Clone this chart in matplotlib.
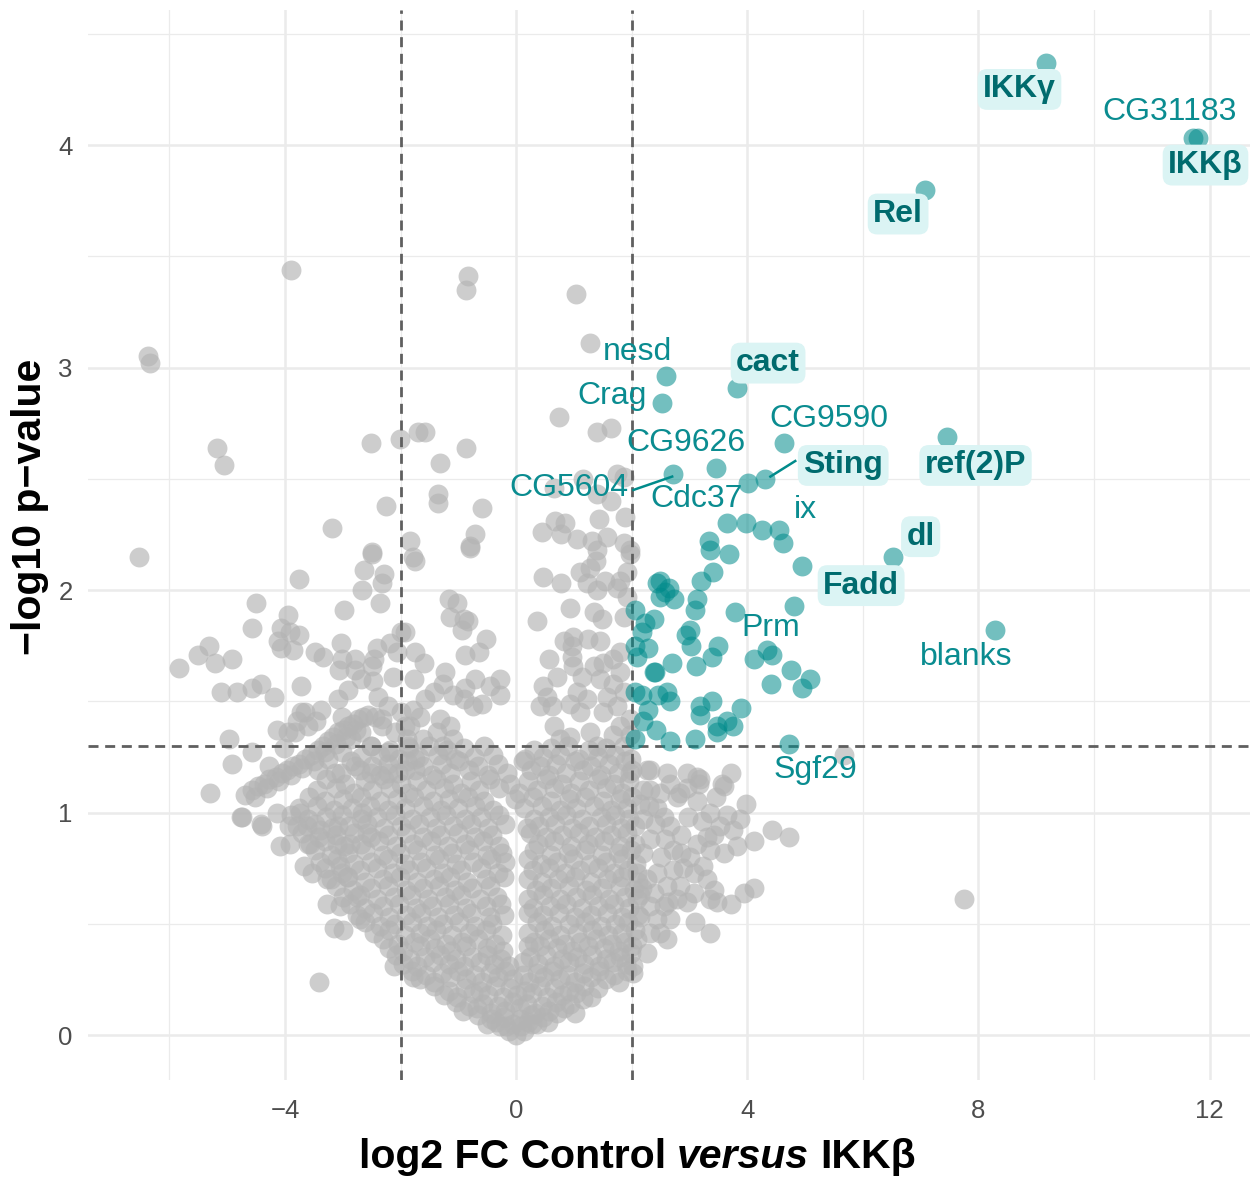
import matplotlib
matplotlib.use("Agg")
import matplotlib.pyplot as plt

plt.rcParams['font.family'] = ['Liberation Sans', 'DejaVu Sans']

# ---------------- data (log2 FC, -log10 p) ----------------
gray_upper = [(-6.38,3.05),(-6.34,3.02),(-6.52,2.15),(-3.89,3.44),(-5.17,2.64),(-5.06,2.56),
    (-2.52,2.66),(-2.01,2.68),(-1.70,2.71),(-2.25,2.38),(-3.18,2.28),(-1.84,2.22),(-2.49,2.17),(-1.78,2.15),
    (-0.84,3.41),(-0.87,3.35),(1.03,3.33),(1.28,3.11),(0.74,2.78),(1.40,2.71),(1.64,2.73),
    (-1.57,2.71),(-0.86,2.64),(-1.31,2.57),(-1.36,2.43),(-1.35,2.39),(-0.59,2.37),(-0.71,2.25),(-0.80,2.20),
    (0.65,2.46),(1.15,2.50),(1.74,2.52),(1.86,2.51),(1.40,2.43),(1.64,2.40),(1.88,2.33),(1.43,2.32),
    (0.68,2.31),(0.85,2.30),(0.44,2.26),(0.78,2.25),(1.05,2.23),(1.31,2.22),(1.57,2.24),(1.86,2.21),(1.97,2.18),(1.40,2.18)]

gray_left_mid = [(-3.76,2.05),(-2.49,2.16),(-2.64,2.09),(-2.29,2.07),(-2.33,2.03),(-2.66,2.00),(-2.35,1.94),(-2.98,1.91),
    (-4.51,1.94),(-4.58,1.83),(-3.95,1.89),(-4.07,1.83),(-3.92,1.81),(-3.76,1.80),(-4.13,1.77),(-4.07,1.74),(-3.86,1.73),
    (-5.32,1.75),(-5.51,1.71),(-5.21,1.67),(-4.92,1.69),(-5.84,1.65),(-3.49,1.72),(-3.34,1.70),
    (-3.04,1.76),(-3.01,1.69),(-3.06,1.64),(-2.79,1.69),(-2.40,1.74),(-2.46,1.69),(-2.19,1.76),(-1.99,1.81),(-2.07,1.72),
    (-2.49,1.66),(-2.48,1.59),(-2.13,1.61),
    (-5.11,1.54),(-4.84,1.54),(-4.58,1.56),(-4.41,1.58),(-4.19,1.52),(-3.73,1.57),
    (-3.66,1.45),(-3.47,1.41),(-3.79,1.41),(-3.95,1.36),(-4.14,1.37),(-4.97,1.33),(-4.92,1.22),(-4.58,1.27),
    (-5.29,1.09),(-4.27,1.21),(-4.01,1.29),(-4.76,0.98),(-4.41,0.95),
    (-1.99,1.45),(-2.22,1.48),(-2.39,1.52),(-1.93,1.39),(-2.10,1.36),(-2.33,1.39),(-1.87,1.30),(-2.22,1.27),
    (-2.51,1.30),(-2.68,1.36),(-2.85,1.33),(-3.02,1.27),(-3.26,1.24),(-3.43,1.19),(-3.14,1.18),(-2.79,1.21),
    (-2.51,1.18),(-2.22,1.18),(-1.93,1.19),(-1.75,1.24),
    (-2.79,1.64),(-2.68,1.60),(-2.91,1.55),(-3.08,1.51),(-3.37,1.46),(-3.02,1.43),(-3.60,1.39),(-3.83,1.36),(-3.72,1.45)]

gray_band = [(-4.70,1.08),(-4.58,1.10),(-4.47,1.12),(-4.37,1.13),(-4.27,1.15),(-4.16,1.16),(-4.06,1.18),
    (-3.96,1.19),(-3.86,1.21),(-3.76,1.22),(-3.66,1.24),(-3.55,1.26),(-3.43,1.28),(-3.35,1.30),(-3.26,1.32),
    (-3.17,1.34),(-3.08,1.36),(-3.00,1.37),(-2.91,1.39),(-2.82,1.40),(-2.74,1.42),(-2.65,1.43),(-2.56,1.44),
    (-2.45,1.43),(-2.33,1.42),
    (-4.52,1.07),(-4.31,1.11),(-4.11,1.14),(-3.90,1.17),(-3.70,1.20),(-3.50,1.23),(-3.30,1.27),(-3.12,1.31),
    (-2.95,1.34),(-2.78,1.37)]

gray_mid = [(-1.75,2.13),(-0.80,2.19),(-1.17,1.96),(-1.03,1.94),(-1.14,1.88),(-0.91,1.87),(-0.83,1.86),(-0.94,1.82),
    (-0.52,1.78),(-0.64,1.72),(-0.88,1.71),(-1.92,1.81),(-1.75,1.72),(-1.59,1.67),(-1.77,1.60),
    (-1.23,1.63),(-1.26,1.58),(-1.43,1.54),(-1.58,1.51),
    (-0.71,1.60),(-0.88,1.56),(-1.09,1.53),(-0.91,1.51),(-0.74,1.48),(-0.59,1.49),(-0.45,1.57),(-0.28,1.60),(-0.28,1.53),
    (-1.78,1.46),(-1.66,1.43),(-1.84,1.39),(-1.32,1.42),(-1.14,1.39),(-1.37,1.36),(-1.09,1.33),(-1.26,1.30),(-1.61,1.33),(-1.89,1.33),
    (0.36,1.86),(0.46,2.06),(0.77,2.03),(0.94,1.92),
    (1.11,2.08),(1.28,2.10),(1.39,2.13),(1.54,2.04),(1.22,2.03),(1.40,2.00),(1.74,2.01),(1.92,2.08),(1.97,2.16),(1.80,2.04),(1.92,1.97),
    (1.34,1.90),(1.48,1.87),(1.86,1.88),
    (0.82,1.77),(0.99,1.79),(0.96,1.75),(1.25,1.78),(1.45,1.77),
    (0.56,1.69),(0.70,1.61),(0.47,1.57),(0.53,1.52),(0.42,1.48),(0.62,1.48),
    (0.96,1.70),(0.99,1.66),(1.14,1.61),(1.05,1.54),(0.94,1.49),(1.22,1.51),(1.11,1.45),
    (1.34,1.66),(1.51,1.67),(1.68,1.69),(1.80,1.72),(1.45,1.60),(1.68,1.58),(1.80,1.63),(1.57,1.52),(1.74,1.48),
    (1.51,1.45),(1.86,1.54),(1.97,1.42),(1.80,1.39),(1.68,1.35),(1.97,1.35),
    (0.65,1.39),(0.76,1.33),(0.94,1.34),(1.28,1.36),(1.40,1.30)]

gray_left_low = [(-4.75,0.98),(-4.40,0.94),(-4.14,1.00),(-4.09,0.85),(-3.91,0.86),(-3.94,0.94),(-3.74,1.00),
    (-3.62,0.94),(-3.39,0.92),(-3.57,0.86),(-3.68,0.76),(-3.54,0.73),(-3.28,0.70),(-3.08,0.94),(-3.10,0.86),
    (-2.87,0.86),(-2.67,1.00),(-2.59,0.91),(-3.05,0.76),(-2.93,0.71),(-3.28,0.59),(-3.05,0.58),(-3.16,0.48),
    (-2.99,0.47),(-2.76,0.62),(-2.70,0.52),(-3.42,0.24),(-2.12,0.31),(-1.78,0.26)]

gray_right_low = [(5.67,1.26),(7.75,0.61),(4.72,0.89),(4.43,0.92),
    (4.11,0.87),(3.97,1.04),(4.11,0.66),(3.94,0.64),(3.71,0.59),(3.48,0.60),(3.36,0.61),(3.36,0.46),(3.10,0.51),
    (3.56,1.13),(3.71,1.18),(3.13,1.16),(3.16,1.13),(2.61,1.18),(2.26,1.19),(1.97,1.18),
    (3.88,0.97),(3.76,0.92),(3.65,0.99),(3.53,0.94),(3.42,0.90),(3.82,0.85),(3.59,0.82),(3.36,0.83),(3.30,0.89),
    (3.13,0.86),(3.01,0.80),(2.89,0.75),(2.72,0.83),(2.67,0.94),(2.55,0.98),(2.44,1.02),(2.78,1.07),(2.95,1.11),
    (3.13,1.05),(2.67,1.13),(2.32,1.10),(2.20,0.97),(2.32,0.88),(2.20,0.82),(2.09,0.73),(2.26,0.70),(2.44,0.73),
    (2.61,0.67),(2.84,0.67),(3.07,0.73),(3.24,0.76),(3.30,0.70),(3.42,0.65),(3.07,0.64),(2.78,0.61),(2.55,0.58),
    (2.32,0.58),(2.09,0.61),(2.15,0.53),(2.44,0.52),(2.67,0.52),(2.32,0.46),(2.09,0.43),(2.49,0.46),(2.61,0.43),
    (2.26,0.37),(2.03,0.31),(2.03,0.28),
    (3.59,1.12),(3.19,1.15),(2.96,1.18),(2.32,1.19),(3.36,1.00),(2.84,1.09),(2.49,1.09),(2.20,1.10),
    (2.40,0.95),(2.58,0.88),(2.86,0.90),(2.98,0.98),(2.50,0.80),(2.72,0.74),(2.95,0.60),(2.18,0.66),
    (2.38,0.64),(2.62,0.60),(2.86,0.82),(3.22,0.96),(3.46,1.07),(2.14,1.04),(2.30,1.03)]

gray_core = [(-0.28,0.04),(-0.12,0.02),(0.0,0.0),(0.13,0.02),(0.27,0.05),
    (-0.66,0.09),(-0.44,0.07),(-0.21,0.08),(0.06,0.07),(0.26,0.09),(0.47,0.08),(0.71,0.10),
    (-1.04,0.15),(-0.81,0.13),(-0.57,0.14),(-0.31,0.13),(-0.06,0.15),(0.19,0.14),(0.44,0.13),(0.69,0.15),(0.93,0.14),(1.16,0.16),
    (-1.42,0.22),(-1.16,0.20),(-0.88,0.21),(-0.62,0.20),(-0.36,0.22),(-0.11,0.21),(0.16,0.20),(0.41,0.22),(0.66,0.21),(0.91,0.20),(1.17,0.22),(1.42,0.21),
    (-1.81,0.29),(-1.56,0.27),(-1.29,0.28),(-1.01,0.29),(-0.72,0.27),(-0.46,0.28),(-0.19,0.29),(0.11,0.27),(0.36,0.28),(0.62,0.29),(0.89,0.27),(1.16,0.28),(1.44,0.29),(1.69,0.27),(1.91,0.29),
    (-2.08,0.36),(-1.84,0.34),(-1.58,0.35),(-1.31,0.36),(-1.04,0.34),(-0.76,0.35),(-0.51,0.36),(-0.26,0.34),(0.24,0.35),(0.51,0.36),(0.79,0.34),(1.06,0.35),(1.31,0.36),(1.56,0.34),(1.79,0.35),(1.98,0.37),
    (-2.31,0.43),(-2.04,0.41),(-1.76,0.42),(-1.49,0.43),(-1.21,0.41),(-0.94,0.42),(-0.66,0.43),(-0.36,0.41),(0.31,0.42),(0.56,0.43),(0.84,0.41),(1.11,0.42),(1.39,0.43),(1.66,0.41),(1.89,0.42),
    (-2.62,0.51),(-2.36,0.49),(-2.09,0.50),(-1.81,0.51),(-1.54,0.49),(-1.26,0.50),(-0.99,0.51),(-0.71,0.49),(-0.41,0.50),(0.36,0.51),(0.62,0.49),(0.91,0.50),(1.19,0.51),(1.46,0.49),(1.71,0.50),(1.94,0.51),
    (-2.88,0.59),(-2.61,0.57),(-2.31,0.58),(-2.02,0.59),(-1.74,0.57),(-1.46,0.58),(-1.16,0.59),(-0.86,0.57),(-0.52,0.58),(-0.26,0.59),(0.29,0.57),(0.59,0.58),(0.86,0.59),(1.14,0.57),(1.41,0.58),(1.69,0.59),(1.96,0.57),
    (-3.11,0.67),(-2.82,0.65),(-2.51,0.66),(-2.21,0.67),(-1.91,0.65),(-1.61,0.66),(-1.34,0.67),(-1.06,0.65),(-0.76,0.66),(-0.46,0.67),(0.34,0.65),(0.61,0.66),(0.91,0.67),(1.21,0.65),(1.49,0.66),(1.79,0.67),(2.04,0.65),
    (-3.31,0.75),(-3.01,0.73),(-2.71,0.74),(-2.41,0.75),(-2.14,0.73),(-1.86,0.74),(-1.56,0.75),(-1.26,0.73),(-0.96,0.74),(-0.61,0.75),(-0.31,0.73),(0.29,0.74),(0.56,0.75),(0.84,0.73),(1.11,0.74),(1.41,0.75),(1.69,0.73),(1.94,0.74),
    (-3.49,0.83),(-3.21,0.81),(-2.91,0.82),(-2.61,0.83),(-2.31,0.81),(-2.01,0.82),(-1.71,0.83),(-1.41,0.81),(-1.11,0.82),(-0.81,0.83),(-0.51,0.81),(-0.24,0.82),(0.31,0.83),(0.61,0.81),(0.89,0.82),(1.19,0.83),(1.49,0.81),(1.76,0.82),(1.99,0.83),
    (-3.71,0.91),(-3.41,0.89),(-3.11,0.90),(-2.81,0.91),(-2.51,0.89),(-2.21,0.90),(-1.91,0.91),(-1.61,0.89),(-1.31,0.90),(-1.01,0.91),(-0.71,0.89),(-0.41,0.90),(0.24,0.91),(0.51,0.89),(0.79,0.90),(1.09,0.91),(1.36,0.89),(1.64,0.90),(1.91,0.91),
    (-3.89,0.99),(-3.61,0.97),(-3.29,0.98),(-3.01,0.99),(-2.69,0.97),(-2.41,0.98),(-2.09,0.99),(-1.81,0.97),(-1.49,0.98),(-1.21,0.99),(-0.89,0.97),(-0.61,0.98),(-0.29,0.99),(0.31,0.97),(0.56,0.98),(0.86,0.99),(1.14,0.97),(1.46,0.98),(1.71,0.99),(1.96,0.97),
    (-3.59,1.07),(-3.31,1.05),(-2.99,1.06),(-2.69,1.07),(-2.36,1.05),(-2.06,1.06),(-1.76,1.07),(-1.44,1.05),(-1.16,1.06),(-0.84,1.07),(-0.56,1.05),(-0.02,1.06),(0.29,1.07),(0.61,1.05),(0.91,1.06),(1.19,1.07),(1.51,1.05),(1.79,1.06),(2.01,1.07),
    (-3.29,1.15),(-2.96,1.13),(-2.61,1.14),(-2.29,1.15),(-1.99,1.13),(-1.71,1.14),(-1.39,1.15),(-1.09,1.13),(-0.79,1.14),(-0.46,1.15),(-0.11,1.13),(0.21,1.14),(0.51,1.15),(0.79,1.13),(1.09,1.14),(1.41,1.15),(1.69,1.13),(1.96,1.14),
    (-2.86,1.23),(-2.49,1.21),(-2.21,1.22),(-1.89,1.23),(-1.61,1.21),(-1.29,1.22),(-0.99,1.23),(-0.66,1.21),(-0.31,1.22),(0.11,1.23),(0.41,1.21),(0.69,1.22),(1.01,1.23),(1.29,1.21),(1.61,1.22),(1.89,1.23),
    (-2.51,1.30),(-2.19,1.28),(-1.86,1.29),(-1.51,1.30),(-1.19,1.28),(-0.91,1.29),(-0.56,1.30),(0.31,1.28),(0.61,1.29),(0.89,1.30),(1.26,1.28),(1.56,1.29),(1.86,1.30)]

gray_core_b = [(-0.50,0.05),(-0.35,0.06),(-0.18,0.04),(-0.05,0.05),(0.08,0.04),(0.20,0.06),(0.36,0.05),(0.55,0.06),
    (-0.92,0.11),(-0.68,0.12),(-0.44,0.10),(-0.19,0.11),(0.06,0.12),(0.32,0.10),(0.57,0.11),(0.82,0.12),(1.02,0.10),
    (-1.25,0.18),(-1.02,0.17),(-0.75,0.19),(-0.49,0.18),(-0.23,0.17),(0.02,0.18),(0.28,0.19),(0.53,0.17),(0.79,0.18),(1.04,0.19),(1.30,0.17),
    (-1.66,0.25),(-1.42,0.24),(-1.15,0.26),(-0.86,0.25),(-0.59,0.24),(-0.32,0.26),(-0.05,0.25),(0.23,0.24),(0.49,0.26),(0.75,0.25),(1.02,0.24),(1.30,0.26),(1.56,0.25),(1.78,0.24),
    (-1.95,0.32),(-1.71,0.31),(-1.44,0.33),(-1.17,0.32),(-0.90,0.31),(-0.63,0.33),(-0.38,0.32),(-0.12,0.31),(0.12,0.33),(0.38,0.32),(0.65,0.31),(0.92,0.33),(1.18,0.32),(1.43,0.31),(1.68,0.33),(1.90,0.32),
    (-2.20,0.39),(-1.96,0.38),(-1.67,0.40),(-1.40,0.39),(-1.12,0.38),(-0.86,0.40),(-0.50,0.39),(-0.22,0.38),(0.20,0.40),(0.42,0.40),(0.70,0.39),(0.97,0.38),(1.25,0.40),(1.52,0.39),(1.78,0.38),(2.00,0.40),
    (-2.46,0.46),(-2.20,0.47),(-1.93,0.45),(-1.66,0.46),(-1.38,0.47),(-1.11,0.45),(-0.82,0.46),(-0.53,0.47),(-0.24,0.45),(0.20,0.46),(0.48,0.47),(0.76,0.45),(1.05,0.46),(1.32,0.47),(1.59,0.45),(1.83,0.46),(2.06,0.47),
    (-2.75,0.54),(-2.48,0.55),(-2.20,0.53),(-1.90,0.54),(-1.64,0.55),(-1.36,0.53),(-1.07,0.54),(-0.78,0.55),(-0.46,0.53),(-0.21,0.54),(0.21,0.55),(0.46,0.54),(0.74,0.55),(1.02,0.53),(1.30,0.54),(1.57,0.55),(1.83,0.53),(2.10,0.54),
    (-2.99,0.62),(-2.71,0.63),(-2.41,0.61),(-2.11,0.62),(-1.82,0.63),(-1.53,0.61),(-1.24,0.62),(-0.95,0.63),(-0.63,0.61),(-0.34,0.62),(0.20,0.61),(0.47,0.63),(0.76,0.61),(1.04,0.62),(1.32,0.63),(1.60,0.61),(1.88,0.62),(2.15,0.63),
    (-3.20,0.70),(-2.91,0.71),(-2.61,0.69),(-2.31,0.70),(-2.01,0.71),(-1.72,0.69),(-1.43,0.70),(-1.14,0.71),(-0.85,0.69),(-0.53,0.70),(-0.21,0.71),(0.21,0.70),(0.45,0.69),(0.73,0.70),(1.01,0.71),(1.30,0.69),(1.58,0.70),(1.84,0.71),(2.10,0.69),
    (-3.40,0.78),(-3.10,0.79),(-2.80,0.77),(-2.52,0.78),(-2.22,0.79),(-1.93,0.77),(-1.64,0.78),(-1.34,0.79),(-1.04,0.77),(-0.74,0.78),(-0.44,0.79),(-0.20,0.78),(0.20,0.79),(0.43,0.77),(0.71,0.78),(0.98,0.79),(1.27,0.77),(1.56,0.78),(1.83,0.79),(2.08,0.77),
    (-3.60,0.86),(-3.30,0.87),(-2.98,0.85),(-2.68,0.86),(-2.38,0.87),(-2.08,0.85),(-1.78,0.86),(-1.48,0.87),(-1.18,0.85),(-0.88,0.86),(-0.58,0.87),(-0.30,0.85),(0.38,0.86),(0.66,0.87),(0.95,0.85),(1.24,0.86),(1.52,0.87),(1.79,0.85),(2.05,0.86),
    (-3.79,0.94),(-3.49,0.95),(-3.19,0.93),(-2.89,0.94),(-2.59,0.95),(-2.29,0.93),(-1.99,0.94),(-1.69,0.95),(-1.39,0.93),(-1.09,0.94),(-0.79,0.95),(-0.49,0.93),(-0.20,0.95),(0.19,0.93),(0.40,0.94),(0.68,0.95),(0.97,0.93),(1.26,0.94),(1.55,0.95),(1.82,0.93),(2.06,0.94),
    (-3.75,1.02),(-3.45,1.03),(-3.15,1.01),(-2.84,1.02),(-2.53,1.03),(-2.22,1.01),(-1.92,1.02),(-1.62,1.03),(-1.30,1.01),(-1.00,1.02),(-0.71,1.03),(-0.40,1.01),(0.14,1.02),(0.45,1.03),(0.75,1.01),(1.04,1.02),(1.34,1.03),(1.64,1.01),(1.92,1.02),
    (-3.44,1.10),(-3.12,1.11),(-2.80,1.09),(-2.49,1.10),(-2.18,1.11),(-1.88,1.09),(-1.56,1.10),(-1.25,1.11),(-0.95,1.09),(-0.64,1.10),(-0.30,1.11),(0.05,1.09),(0.36,1.10),(0.66,1.11),(0.95,1.09),(1.26,1.10),(1.56,1.11),(1.83,1.09),
    (-3.04,1.18),(-2.70,1.19),(-2.36,1.17),(-2.05,1.18),(-1.75,1.19),(-1.45,1.17),(-1.14,1.18),(-0.82,1.19),(-0.49,1.17),(-0.15,1.18),(0.26,1.19),(0.56,1.17),(0.86,1.18),(1.16,1.19),(1.46,1.17),(1.76,1.18),(2.00,1.19),
    (-2.68,1.25),(-2.35,1.26),(-2.03,1.24),(-1.69,1.25),(-1.35,1.26),(-1.05,1.24),(-0.73,1.25),(-0.40,1.26),(0.16,1.24),(0.46,1.25),(0.75,1.26),(1.08,1.24),(1.41,1.25),(1.71,1.26),(1.98,1.24)]

teal_pts = [(3.65,2.30),(3.98,2.30),(4.25,2.27),(4.62,2.21),(3.34,2.22),(3.36,2.18),(3.68,2.16),(4.95,2.11),
    (3.41,2.08),(3.20,2.04),(2.49,2.04),(2.64,2.01),(2.49,1.97),(2.74,1.96),(2.58,1.99),(3.13,1.96),(3.10,1.91),
    (3.79,1.90),(2.06,1.91),(2.38,1.87),(2.23,1.85),(2.18,1.81),(3.00,1.82),(2.94,1.80),(3.03,1.75),
    (2.06,1.75),(2.29,1.74),(2.09,1.70),(3.49,1.75),(3.39,1.70),(3.12,1.66),(2.70,1.67),(2.38,1.63),(2.40,1.63),
    (4.12,1.69),(4.43,1.71),(4.76,1.64),(4.41,1.58),(4.95,1.56),(5.09,1.60),
    (2.06,1.54),(2.18,1.53),(2.61,1.54),(2.67,1.50),(2.46,1.53),(2.29,1.46),(2.20,1.41),(2.42,1.37),(2.06,1.33),(2.67,1.32),
    (3.19,1.48),(3.19,1.44),(3.39,1.50),(3.89,1.47),(3.47,1.39),(3.65,1.41),(3.76,1.39),(3.47,1.36),(3.09,1.33),(2.44,2.03)]

# labelled genes
gene_names = ['IKKγ', 'CG31183', 'IKKβ', 'Rel', 'cact', 'nesd', 'Crag', 'CG9590', 'ref(2)P',
              'CG5604', 'CG9626', 'Cdc37', 'Sting', 'ix', 'dl', 'Fadd', 'blanks', 'Prm', 'Sgf29']
gene_x = [9.17, 11.72, 11.80, 7.08, 3.83, 2.59, 2.53, 4.63, 7.46, 2.72, 3.46, 4.01, 4.31, 4.55, 6.52, 4.81, 8.29, 4.34, 4.72]
gene_y = [4.37, 4.03, 4.03, 3.80, 2.91, 2.96, 2.84, 2.66, 2.69, 2.52, 2.55, 2.48, 2.50, 2.27, 2.15, 1.93, 1.82, 1.73, 1.31]
label_x = [8.71, 11.31, 11.93, 6.61, 4.36, 2.10, 1.66, 5.42, 7.95, 0.92, 2.94, 3.13, 5.66, 5.00, 7.00, 5.97, 7.79, 4.40, 5.18]
label_y = [4.25, 4.15, 3.91, 3.69, 3.02, 3.07, 2.87, 2.77, 2.56, 2.46, 2.66, 2.41, 2.56, 2.36, 2.24, 2.02, 1.70, 1.83, 1.19]
label_bold = [True, False, True, True, True, False, False, False, True,
              False, False, False, True, False, True, True, False, False, False]
seg_from = {'CG5604': (2.03, 2.45), 'Sting': (4.83, 2.58)}
seg_to = {'CG5604': (2.70, 2.51), 'Sting': (4.40, 2.51)}

fc_cut = [-2, 2]
p_cut = 1.301

# ---------------- figure ----------------
W, H = 1250, 1180
fig = plt.figure(figsize=(W / 100, H / 100), dpi=100)
ax = fig.add_axes([88 / W, 1 - 1080 / H, (1250 - 88) / W, 1070 / H])
ax.set_xlim(-7.41, 12.70)
ax.set_ylim(-0.202, 4.607)

for sp in ax.spines.values():
    sp.set_visible(False)
ax.set_xticks([-4, 0, 4, 8, 12])
ax.set_xticklabels(['\u22124', '0', '4', '8', '12'])
ax.set_xticks([-6, -2, 2, 6, 10], minor=True)
ax.set_yticks([0, 1, 2, 3, 4])
ax.set_yticks([0.5, 1.5, 2.5, 3.5, 4.5], minor=True)
ax.tick_params(which='both', length=0)
ax.tick_params(axis='x', pad=14, labelsize=18.5, labelcolor='#4d4d4d')
ax.tick_params(axis='y', pad=11, labelsize=18.5, labelcolor='#4d4d4d')
ax.grid(which='major', color='#ebebeb', linewidth=1.8)
ax.grid(which='minor', color='#ebebeb', linewidth=0.9)
ax.set_axisbelow(True)

ms = 205
allgray = (gray_upper + gray_left_mid + gray_band + gray_mid + gray_left_low + gray_right_low
           + gray_core + gray_core_b)
ax.scatter([p[0] for p in allgray], [p[1] for p in allgray], s=ms, color='#b3b3b3', alpha=0.65,
           linewidths=0, zorder=2)

dash = (0, (3.6, 2.4))
for v in fc_cut:
    ax.axvline(v, color='#5f5f5f', linestyle=dash, linewidth=2.0, zorder=3)
ax.axhline(p_cut, color='#5f5f5f', linestyle=dash, linewidth=2.0, zorder=3)

ax.scatter([p[0] for p in teal_pts] + gene_x, [p[1] for p in teal_pts] + gene_y, s=ms,
           color='#008b8b', alpha=0.55, linewidths=0, zorder=4)

for nm in seg_from:
    (x0, y0), (x1, y1) = seg_from[nm], seg_to[nm]
    ax.plot([x0, x1], [y0, y1], color='#008b8b', linewidth=1.8, zorder=5)

for nm, lx, ly, b in zip(gene_names, label_x, label_y, label_bold):
    if b:
        ax.text(lx, ly, nm, ha='center', va='center', fontsize=23, fontweight='bold', color='#006b6e',
                zorder=6, bbox=dict(boxstyle='round,pad=0.17,rounding_size=0.3', fc='#dbf4f4', ec='none'))
    else:
        ax.text(lx, ly, nm, ha='center', va='center', fontsize=23, color='#0a8c90', zorder=6)

# axis titles
fig.text(30 / W, 1 - 507 / H, '\u2212log10 p\u2212value', rotation=90, ha='center', va='center',
         fontsize=29.5, fontweight='bold')

fs = 29.5
parts = [('log2 FC Control', 'normal'), ('versus', 'italic'), ('IKKβ', 'normal')]
ts = [fig.text(0, 1 - 1157 / H, s, fontsize=fs, fontweight='bold', style=st, ha='left', va='center')
      for s, st in parts]
fig.canvas.draw()
r = fig.canvas.get_renderer()
ws = [t.get_window_extent(r).width for t in ts]
gap = 0.278 * fs * 100 / 72
total = sum(ws) + gap * (len(ws) - 1)
xpos = 637.5 - total / 2
for t, w in zip(ts, ws):
    t.set_x(xpos / W)
    xpos += w + gap

fig.savefig('out.png', dpi=100)
